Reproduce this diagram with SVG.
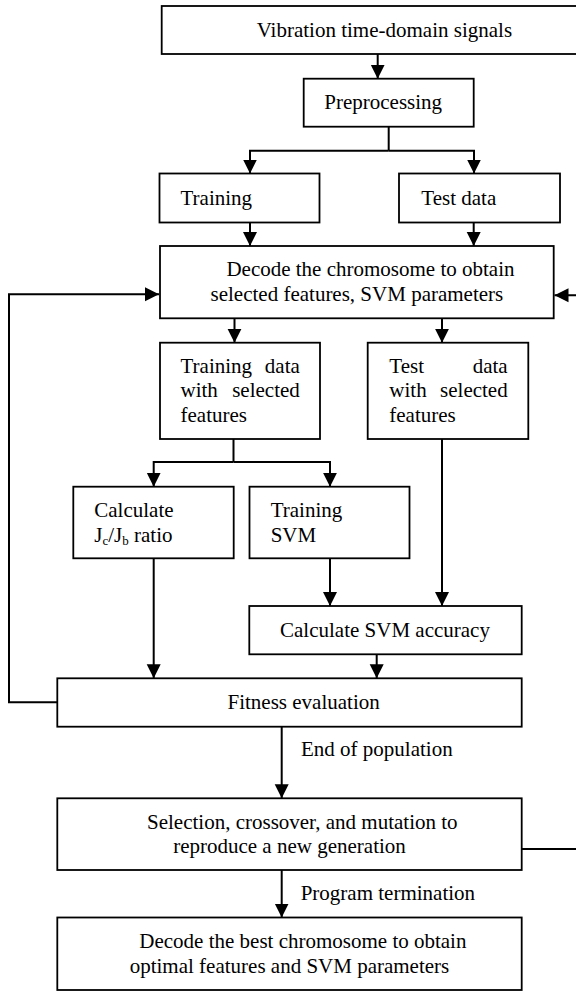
<svg xmlns="http://www.w3.org/2000/svg" width="576" height="991" viewBox="0 0 576 991">
  <style>
    .box { fill: #ffffff; stroke: #000000; stroke-width: 1.8; }
    .txt { font-family: "Liberation Serif", "Times New Roman", serif; font-size: 21px; fill: #000000; }
    .mid { text-anchor: middle; }
    .end { text-anchor: end; }
    .sub { font-size: 13px; }
    .wire { fill: none; stroke: #000000; stroke-width: 2; }
    .arrow { fill: none; stroke: #000000; stroke-width: 2; marker-end: url(#head); }
  </style>
  <defs>
    <marker id="head" markerUnits="userSpaceOnUse" markerWidth="15" markerHeight="15" viewBox="0 0 15 15" refX="14" refY="7.5" orient="auto">
      <path d="M0,0.5 L14,7.5 L0,14.5 Z" fill="#000000"/>
    </marker>
  </defs>

  <rect width="576" height="991" fill="#ffffff"/>

  <!-- connectors -->
  <g id="connectors">
    <line class="arrow" x1="377.7" y1="54" x2="377.7" y2="78.7"/>
    <polyline class="wire" points="388.7,126.7 388.7,150.7"/>
    <polyline class="arrow" points="388.7,150.7 250,150.7 250,173.5"/>
    <polyline class="arrow" points="388.7,150.7 474,150.7 474,173.5"/>
    <line class="arrow" x1="250" y1="222.5" x2="250" y2="246"/>
    <line class="arrow" x1="473.7" y1="222.5" x2="473.7" y2="246"/>
    <line class="arrow" x1="234.5" y1="318.3" x2="234.5" y2="342.7"/>
    <line class="arrow" x1="442" y1="318.3" x2="442" y2="342.7"/>
    <line class="wire" x1="233.5" y1="439" x2="233.5" y2="462"/>
    <polyline class="arrow" points="233.5,462 153.7,462 153.7,486.7"/>
    <polyline class="arrow" points="233.5,462 330,462 330,486.7"/>
    <line class="arrow" x1="153.7" y1="558.3" x2="153.7" y2="678.3"/>
    <line class="arrow" x1="330" y1="558.3" x2="330" y2="606"/>
    <line class="arrow" x1="442" y1="439" x2="442" y2="606"/>
    <line class="arrow" x1="376.7" y1="654.3" x2="376.7" y2="678.3"/>
    <polyline class="arrow" points="57.3,702.3 9,702.3 9,294.3 159,294.3"/>
    <line class="arrow" x1="281.7" y1="726.7" x2="281.7" y2="798.3"/>
    <polyline class="arrow" points="521.7,849 578,849 578,295.3 554.5,295.3"/>
    <line class="arrow" x1="281.7" y1="870" x2="281.7" y2="917.5"/>
    <text class="txt" x="301" y="756">End of population</text>
    <text class="txt" x="300.7" y="900">Program termination</text>
  </g>

  <g id="signals">
    <rect class="box" x="161.7" y="6" width="460" height="48"/>
    <text class="txt" x="256.7" y="37">Vibration time-domain signals</text>
  </g>

  <g id="preprocessing">
    <rect class="box" x="303.7" y="78.7" width="170" height="48"/>
    <text class="txt" x="324.3" y="109">Preprocessing</text>
  </g>

  <g id="training">
    <rect class="box" x="159.5" y="173.5" width="160" height="49"/>
    <text class="txt" x="180.5" y="205">Training</text>
  </g>

  <g id="test-data">
    <rect class="box" x="399" y="173.5" width="161" height="49"/>
    <text class="txt" x="421.3" y="205">Test data</text>
  </g>

  <g id="decode">
    <rect class="box" x="160" y="246" width="393.7" height="72.3"/>
    <text class="txt" x="226.4" y="276">Decode the chromosome to obtain</text>
    <text class="txt mid" x="356.9" y="301">selected features, SVM parameters</text>
  </g>

  <g id="training-selected">
    <rect class="box" x="160" y="342.7" width="160" height="96.3"/>
    <text class="txt" x="180.5" y="372.7">Training</text>
    <text class="txt end" x="299.8" y="372.7">data</text>
    <text class="txt" x="180.5" y="396.7">with</text>
    <text class="txt end" x="299.8" y="396.7">selected</text>
    <text class="txt" x="180.5" y="421.7">features</text>
  </g>

  <g id="test-selected">
    <rect class="box" x="367.7" y="342.7" width="160.6" height="96.3"/>
    <text class="txt" x="389.3" y="372.7">Test</text>
    <text class="txt end" x="507.7" y="372.7">data</text>
    <text class="txt" x="389.3" y="396.7">with</text>
    <text class="txt end" x="507.7" y="396.7">selected</text>
    <text class="txt" x="389.3" y="421.7">features</text>
  </g>

  <g id="ratio">
    <rect class="box" x="73.3" y="486.7" width="160.4" height="71.6"/>
    <text class="txt" x="94.3" y="516.7">Calculate</text>
    <text class="txt" x="94.3" y="541.7">J<tspan class="sub" dy="3">c</tspan><tspan dy="-3">/J</tspan><tspan class="sub" dy="3">b</tspan><tspan dy="-3"> ratio</tspan></text>
  </g>

  <g id="train-svm">
    <rect class="box" x="249.5" y="486.7" width="160" height="71.6"/>
    <text class="txt" x="270.7" y="516.7">Training</text>
    <text class="txt" x="270.7" y="541.7">SVM</text>
  </g>

  <g id="accuracy">
    <rect class="box" x="249.3" y="606" width="272.4" height="48.3"/>
    <text class="txt" x="280" y="637">Calculate SVM accuracy</text>
  </g>

  <g id="fitness">
    <rect class="box" x="57.3" y="678.3" width="464.4" height="48.4"/>
    <text class="txt" x="227.5" y="709">Fitness evaluation</text>
  </g>

  <g id="reproduce">
    <rect class="box" x="57.3" y="798.3" width="464.4" height="71.7"/>
    <text class="txt" x="147" y="828.8">Selection, crossover, and mutation to</text>
    <text class="txt mid" x="289.5" y="852.7">reproduce a new generation</text>
  </g>

  <g id="best">
    <rect class="box" x="57.3" y="917.5" width="464.4" height="72.5"/>
    <text class="txt" x="139.3" y="948.3">Decode the best chromosome to obtain</text>
    <text class="txt mid" x="289.5" y="972.7">optimal features and SVM parameters</text>
  </g>
</svg>
